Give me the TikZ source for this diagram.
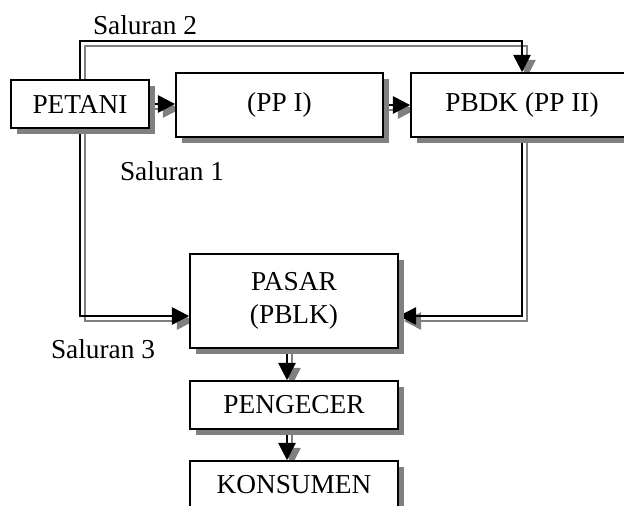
\documentclass[tikz,border=0pt]{standalone}
\usepackage{fontspec}
\setmainfont{Liberation Serif}
\usetikzlibrary{arrows.meta, shadows, backgrounds}

\begin{document}
\begin{tikzpicture}[x=0.75pt, y=-0.75pt,
    every node/.style={font=\fontsize{20.5}{25}\selectfont},
    box/.style={draw, line width=1.3pt, fill=white, align=center, inner sep=0pt,
      drop shadow={shadow xshift=4.5pt, shadow yshift=-4.5pt, fill=gray, opacity=1}},
    link/.style={line width=1.5pt, -{Triangle[length=13pt, width=13pt]},
      preaction={draw=gray, line width=1.6pt,
        transform canvas={shift={(3.75pt,-3.75pt)}}}}]
    \useasboundingbox (0,0) rectangle (624,506);
    \clip (0,0) rectangle (624,506);
    % boxes
    \node[box, minimum width=103.5pt, minimum height=36pt] (petani) at (80,104) {PETANI};
    \node[box, minimum width=155.25pt, minimum height=48pt] (pp1) at (279.5,105) {(PP I)};
    \node[box, minimum width=166.5pt, minimum height=48pt] (pbdk) at (522,105) {PBDK (PP II)};
    \node[box, minimum width=156pt, minimum height=70.5pt] (pasar) at (294,301) {PASAR\\(PBLK)};
    \node[box, minimum width=156pt, minimum height=36pt] (pengecer) at (294,405) {PENGECER};
    \node[box, minimum width=156pt, minimum height=36pt] (konsumen) at (294,485) {KONSUMEN};
    % channel labels
    \node (s2) at (145,25.5) {Saluran 2};
    \node (s1) at (172,171.5) {Saluran 1};
    \node (s3) at (103,349) {Saluran 3};
    \coordinate (top) at (522,41);
    \begin{pgfonlayer}{background}
      \draw[link] (petani.east) -- (petani.east -| pp1.west);
      \draw[link] (pp1.east) -- (pbdk.west);
      \draw[link] (petani.north) |- (top) -- (pbdk.north);
      \draw[link] (petani.south) |- ([yshift=-11.25pt]pasar.west);
      \draw[link] (pbdk.south) |- ([yshift=-11.25pt]pasar.east);
      \draw[link] ([xshift=-5.25pt]pasar.south) -- ([xshift=-5.25pt]pengecer.north);
      \draw[link] ([xshift=-5.25pt]pengecer.south) -- ([xshift=-5.25pt]konsumen.north);
    \end{pgfonlayer}
  \end{tikzpicture}
\end{document}
